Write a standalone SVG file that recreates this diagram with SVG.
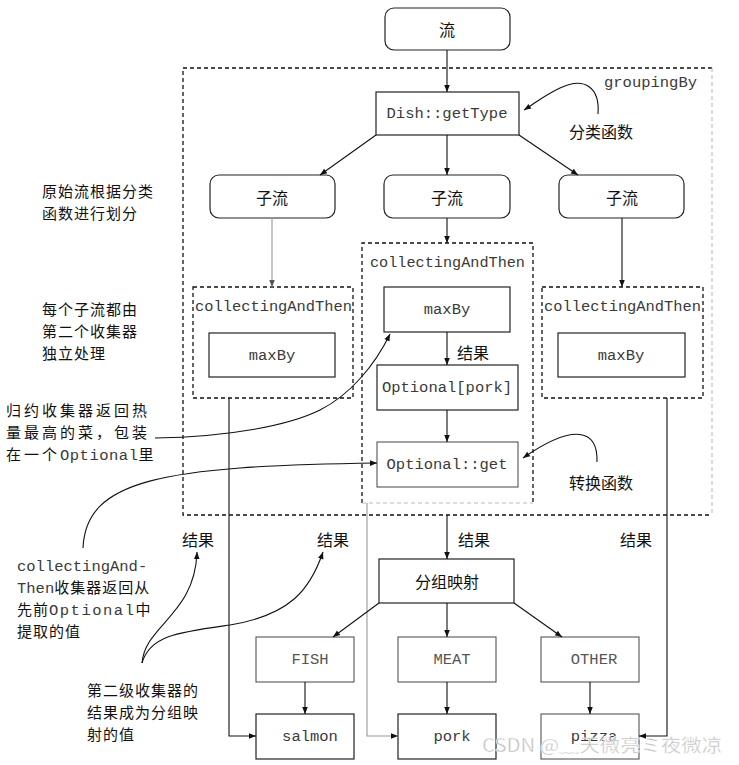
<svg xmlns="http://www.w3.org/2000/svg" width="739" height="765" viewBox="0 0 739 765">
<defs>
<marker id="ah" viewBox="0 0 10 10" refX="10" refY="5" markerWidth="9" markerHeight="7" orient="auto" markerUnits="userSpaceOnUse"><path d="M0,1 L10,5 L0,9 z" fill="#111"/></marker>
<marker id="ahg" viewBox="0 0 10 10" refX="10" refY="5" markerWidth="9" markerHeight="7" orient="auto" markerUnits="userSpaceOnUse"><path d="M0,1 L10,5 L0,9 z" fill="#555"/></marker>
<style>
.mono{font-family:"Liberation Mono","DejaVu Sans Mono",monospace;font-size:15.5px;fill:#3a3a3a}
.cjk{font-family:"Noto Sans CJK SC","Noto Sans CJK JP",sans-serif;font-size:16px;fill:#111}
.note{font-family:"Noto Sans CJK SC","Noto Sans CJK JP",sans-serif;font-size:15px;letter-spacing:1px;fill:#111}
.box{fill:#fff;stroke:#222;stroke-width:1.2}
.lbox{fill:#fff;stroke:#555;stroke-width:1.1}
.dash{fill:none;stroke:#111;stroke-width:1.3;stroke-dasharray:4,3}
.gdash{fill:none;stroke:#bbb;stroke-width:1.1;stroke-dasharray:4,3}
.c{text-anchor:middle;dominant-baseline:central}
.ln{fill:none;stroke:#111;stroke-width:1.1}
.gln{fill:none;stroke:#999;stroke-width:1.1}
</style>
</defs>

<g id="groupingBy">
<path class="dash" d="M712,68 L183,68 L183,515 L712,515"/>
<path class="gdash" d="M712,68 L712,515"/>
<text class="mono" x="604" y="87">groupingBy</text>
</g>

<g id="stream">
<rect class="box" x="385" y="8" width="125" height="42" rx="9"/>
<text class="cjk c" x="447" y="29">流</text>
</g>

<g id="getType">
<rect class="box" x="376" y="92" width="143" height="43"/>
<text class="mono c" x="447" y="114">Dish::getType</text>
</g>

<g id="classifyLabel"><text class="cjk c" x="601" y="131">分类函数</text></g>

<g id="sub1">
<rect class="box" x="210" y="175" width="125" height="43" rx="9"/>
<text class="cjk c" x="272" y="197">子流</text>
</g>
<g id="sub2">
<rect class="box" x="384" y="175" width="126" height="43" rx="9"/>
<text class="cjk c" x="447" y="197">子流</text>
</g>
<g id="sub3">
<rect class="box" x="559" y="175" width="125" height="43" rx="9"/>
<text class="cjk c" x="622" y="197">子流</text>
</g>

<g id="note1">
<text class="note"><tspan x="42" y="197">原始流根据分类</tspan><tspan x="42" y="219">函数进行划分</tspan></text>
</g>
<g id="note2">
<text class="note"><tspan x="42" y="315">每个子流都由</tspan><tspan x="42" y="337">第二个收集器</tspan><tspan x="42" y="359">独立处理</tspan></text>
</g>

<g id="cat1">
<rect class="dash" x="193" y="287" width="160" height="111"/>
<text class="mono" x="195" y="311" textLength="157" lengthAdjust="spacingAndGlyphs">collectingAndThen</text>
<rect class="box" x="209" y="333" width="126" height="44"/>
<text class="mono c" x="272" y="356">maxBy</text>
</g>

<g id="cat2">
<path class="dash" d="M362,503 L362,243 L533,243 L533,503"/>
<path class="gdash" d="M362,503 L533,503"/>
<text class="mono" x="370" y="267" textLength="155" lengthAdjust="spacingAndGlyphs">collectingAndThen</text>
<rect class="box" x="384" y="287" width="126" height="45"/>
<text class="mono c" x="447" y="310">maxBy</text>
<rect class="box" x="377" y="365" width="141" height="45"/>
<text class="mono c" x="447" y="388">Optional[pork]</text>
<rect class="lbox" x="377" y="442" width="141" height="45"/>
<text class="mono c" x="447" y="465">Optional::get</text>
</g>

<g id="cat3">
<rect class="dash" x="542" y="287" width="161" height="111"/>
<text class="mono" x="544" y="311" textLength="157" lengthAdjust="spacingAndGlyphs">collectingAndThen</text>
<rect class="box" x="558" y="333" width="127" height="44"/>
<text class="mono c" x="621" y="356">maxBy</text>
</g>

<g id="resultLbl"><text class="cjk c" x="473" y="352">结果</text></g>

<g id="note3">
<text class="note" style="letter-spacing:3px"><tspan x="6" y="416">归约收集器返回热</tspan><tspan x="6" y="438">量最高的菜，包装</tspan><tspan x="6" y="460">在一个</tspan><tspan class="mono" style="letter-spacing:0.5px">Optional</tspan><tspan>里</tspan></text>
</g>

<g id="convLabel"><text class="cjk c" x="601" y="482">转换函数</text></g>

<g id="results">
<text class="cjk c" x="198" y="539">结果</text>
<text class="cjk c" x="333" y="539">结果</text>
<text class="cjk c" x="474" y="539">结果</text>
<text class="cjk c" x="636" y="539">结果</text>
</g>

<g id="note4">
<text class="note"><tspan class="mono" style="letter-spacing:0" x="17" y="571">collectingAnd-</tspan><tspan class="mono" style="letter-spacing:0" x="17" y="593">Then</tspan><tspan>收集器返回从</tspan><tspan x="17" y="615">先前</tspan><tspan class="mono" style="letter-spacing:1.5px">Optional</tspan><tspan>中</tspan><tspan x="17" y="637">提取的值</tspan></text>
</g>

<g id="note5">
<text class="note"><tspan x="87" y="696">第二级收集器的</tspan><tspan x="87" y="718">结果成为分组映</tspan><tspan x="87" y="740">射的值</tspan></text>
</g>

<g id="map">
<rect class="box" x="379" y="559" width="135" height="44"/>
<text class="cjk c" x="447" y="581">分组映射</text>
</g>
<g id="fish"><rect class="lbox" x="256" y="637" width="98" height="45"/><text class="mono c" x="310" y="660" style="fill:#555">FISH</text></g>
<g id="meat"><rect class="lbox" x="398" y="637" width="98" height="45"/><text class="mono c" x="452" y="660" style="fill:#555">MEAT</text></g>
<g id="other"><rect class="lbox" x="541" y="637" width="98" height="45"/><text class="mono c" x="594" y="660" style="fill:#555">OTHER</text></g>
<g id="salmon"><rect class="box" x="256" y="714" width="98" height="45"/><text class="mono c" x="310" y="737">salmon</text></g>
<g id="pork"><rect class="box" x="398" y="714" width="98" height="45"/><text class="mono c" x="452" y="737">pork</text></g>
<g id="pizza"><rect class="lbox" x="541" y="714" width="98" height="45"/><text class="mono c" x="594" y="737">pizza</text></g>

<g id="connectors">
<line class="ln" x1="447" y1="50" x2="447" y2="92" marker-end="url(#ah)"/>
<line class="ln" x1="376" y1="135" x2="320" y2="175" marker-end="url(#ah)"/>
<line class="ln" x1="447" y1="135" x2="447" y2="175" marker-end="url(#ah)"/>
<line class="ln" x1="519" y1="135" x2="578" y2="175" marker-end="url(#ah)"/>
<line class="gln" x1="272" y1="218" x2="272" y2="287" marker-end="url(#ahg)"/>
<line class="ln" x1="447" y1="218" x2="447" y2="243" marker-end="url(#ah)"/>
<line class="ln" x1="622" y1="218" x2="622" y2="287" marker-end="url(#ah)"/>
<line class="ln" x1="447" y1="332" x2="447" y2="365" marker-end="url(#ah)"/>
<line class="ln" x1="447" y1="410" x2="447" y2="442" marker-end="url(#ah)"/>
<path class="ln" d="M598,114 C600,88 585,76 560,88 C545,95 535,103 524,110" marker-end="url(#ah)"/>
<path class="ln" d="M155,438 C230,437 290,425 320,410 C350,395 375,365 390,334" marker-end="url(#ah)"/>
<path class="ln" d="M83,548 C86,480 160,466 377,463" marker-end="url(#ah)"/>
<path class="ln" d="M597,462 C598,430 575,422 523,458" marker-end="url(#ah)"/>
<path class="ln" d="M142,663 C145,625 195,615 197,552" marker-end="url(#ah)"/>
<path class="ln" d="M142,663 C150,635 180,632 230,625 C290,615 310,590 323,552" marker-end="url(#ah)"/>
<path class="ln" d="M229,398 L229,736 L256,736" marker-end="url(#ah)"/>
<path class="gln" d="M367,503 L367,736 L398,736" marker-end="url(#ah)"/>
<path class="ln" d="M667,398 L667,736 L639,736" marker-end="url(#ah)"/>
<line class="ln" x1="447" y1="515" x2="447" y2="559" marker-end="url(#ah)"/>
<line class="ln" x1="379" y1="603" x2="333" y2="637" marker-end="url(#ah)"/>
<line class="ln" x1="447" y1="603" x2="447" y2="637" marker-end="url(#ah)"/>
<line class="ln" x1="514" y1="603" x2="562" y2="637" marker-end="url(#ah)"/>
<line class="ln" x1="305" y1="682" x2="305" y2="714" marker-end="url(#ah)"/>
<line class="ln" x1="447" y1="682" x2="447" y2="714" marker-end="url(#ah)"/>
<line class="ln" x1="590" y1="682" x2="590" y2="714" marker-end="url(#ah)"/>
</g>

<g id="watermark">
<text x="482" y="752" style="font-family:'Noto Sans CJK SC',sans-serif;font-size:18px;fill:#bdbdbd;stroke:#fff;stroke-width:0.4" textLength="240" lengthAdjust="spacingAndGlyphs">CSDN @﹏天微亮ミ夜微凉</text>
</g>
</svg>
